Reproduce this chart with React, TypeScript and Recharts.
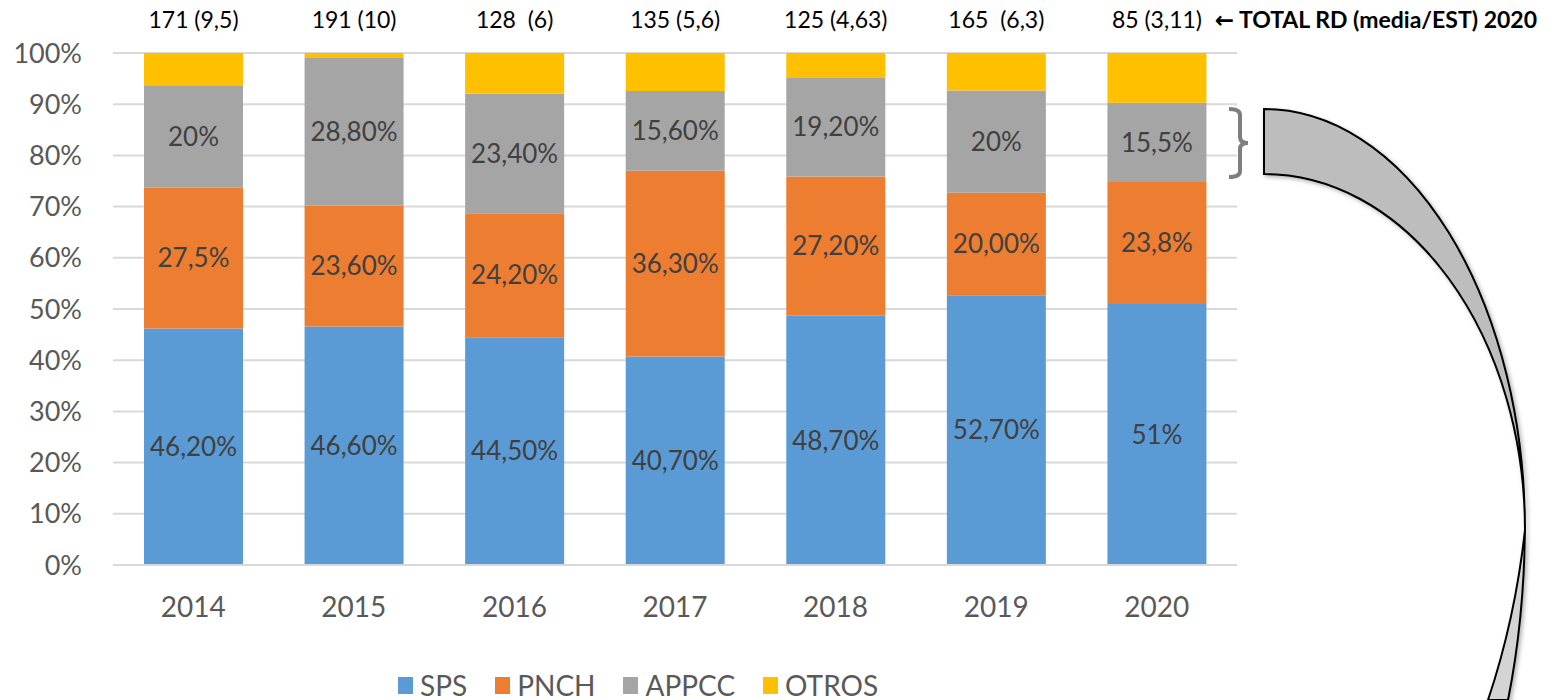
import { BarChart, Bar, XAxis, YAxis, CartesianGrid, LabelList, Legend } from "recharts";

const years = ["2014", "2015", "2016", "2017", "2018", "2019", "2020"];
const sps = [46.2, 46.6, 44.5, 40.7, 48.7, 52.7, 51];
const pnch = [27.5, 23.6, 24.2, 36.3, 27.2, 20.0, 23.8];
const appcc = [20, 28.8, 23.4, 15.6, 19.2, 20, 15.5];
const otros = [6.3, 1.0, 7.9, 7.4, 4.9, 7.3, 9.7];
const spsLabels = ["46,20%", "46,60%", "44,50%", "40,70%", "48,70%", "52,70%", "51%"];
const pnchLabels = ["27,5%", "23,60%", "24,20%", "36,30%", "27,20%", "20,00%", "23,8%"];
const appccLabels = ["20%", "28,80%", "23,40%", "15,60%", "19,20%", "20%", "15,5%"];
const totals = ["171 (9,5)", "191 (10)", "128  (6)", "135 (5,6)", "125 (4,63)", "165  (6,3)", "85 (3,11)"];
const yTicks = [0, 10, 20, 30, 40, 50, 60, 70, 80, 90, 100];

const series = [
  { key: "SPS", color: "#5B9BD5" },
  { key: "PNCH", color: "#ED7D31" },
  { key: "APPCC", color: "#A5A5A5" },
  { key: "OTROS", color: "#FFC000" },
];

const data = years.map((y, i) => ({
  year: y,
  SPS: sps[i],
  PNCH: pnch[i],
  APPCC: appcc[i],
  OTROS: otros[i],
  spsLabel: spsLabels[i],
  pnchLabel: pnchLabels[i],
  appccLabel: appccLabels[i],
  total: totals[i],
}));

const FONT = "Lato, 'Open Sans', sans-serif";
const segLabel = { fill: "#404040", fontSize: 26, fontFamily: FONT };

const TopLabel = (p: any) => (
  <text
    x={p.x + p.width / 2}
    y={p.y - 25}
    textAnchor="middle"
    fill="#000"
    fontSize={23}
    fontFamily={FONT}
    style={{ whiteSpace: "pre" }}
  >
    {p.value}
  </text>
);

const LegendBox = () => (
  <div style={{ display: "flex", alignItems: "center", marginLeft: 398, height: 30, fontFamily: FONT, fontSize: 28, color: "#595959" }}>
    {series.map((s) => (
      <div key={s.key} style={{ display: "flex", alignItems: "center", marginRight: 28 }}>
        <span style={{ display: "inline-block", width: 15, height: 17, background: s.color, marginRight: 7 }} />
        <span>{s.key}</span>
      </div>
    ))}
  </div>
);

export default function App() {
  return (
    <div style={{ position: "absolute", left: 0, top: 0, width: 1557, height: 700, background: "#fff" }}>
      <BarChart
        width={1557}
        height={700}
        data={data}
        margin={{ top: 53, right: 320, left: 0, bottom: 0 }}
        barSize={99}
      >
        <CartesianGrid vertical={false} stroke="#D9D9D9" strokeWidth={2} />
        <XAxis
          dataKey="year"
          height={105}
          tickLine={false}
          axisLine={{ stroke: "#D9D9D9", strokeWidth: 2 }}
          tickMargin={26}
          tick={{ fill: "#595959", fontSize: 28, fontFamily: FONT }}
        />
        <YAxis
          width={113}
          domain={[0, 100]}
          ticks={yTicks}
          tickFormatter={(v) => `${v}%`}
          axisLine={false}
          tickLine={false}
          tickMargin={25}
          tick={{ fill: "#595959", fontSize: 27, fontFamily: FONT }}
        />
        <Legend verticalAlign="bottom" wrapperStyle={{ left: 0, width: 1557, bottom: 0 }} content={<LegendBox />} />
        <Bar dataKey="SPS" stackId="a" fill="#5B9BD5" isAnimationActive={false}>
          <LabelList dataKey="spsLabel" position="center" style={segLabel} />
        </Bar>
        <Bar dataKey="PNCH" stackId="a" fill="#ED7D31" isAnimationActive={false}>
          <LabelList dataKey="pnchLabel" position="center" style={segLabel} />
        </Bar>
        <Bar dataKey="APPCC" stackId="a" fill="#A5A5A5" isAnimationActive={false}>
          <LabelList dataKey="appccLabel" position="center" style={segLabel} />
        </Bar>
        <Bar dataKey="OTROS" stackId="a" fill="#FFC000" isAnimationActive={false}>
          <LabelList dataKey="total" content={TopLabel} />
        </Bar>
      </BarChart>
      <svg width={1557} height={700} style={{ position: "absolute", left: 0, top: 0, pointerEvents: "none" }}>
        <defs>
          <filter id="sh" x="-10%" y="-10%" width="130%" height="130%">
            <feDropShadow dx="2" dy="2" stdDeviation="2" floodColor="#000" floodOpacity="0.3" />
          </filter>
        </defs>
        <text x={1537} y={28} textAnchor="end" fontSize={23} fontWeight="bold" fontFamily={FONT} fill="#000">
          <tspan fontFamily="'DejaVu Sans'" fontWeight="bold">←</tspan> TOTAL RD (media/EST) 2020
        </text>
        <path
          d="M1229,109 Q1240,109 1240,115 L1240,137 Q1240,143 1248,143 Q1240,143 1240,149 L1240,171 Q1240,177 1229,177"
          fill="none"
          stroke="#7F7F7F"
          strokeWidth={4}
        />
        <path
          d="M1525,530 Q1524,620 1508,700 L1488,700 Q1515,620 1525,530 Z"
          fill="#D4D4D4"
          stroke="#000"
          strokeWidth={2}
          filter="url(#sh)"
        />
        <path
          d="M1264,109 A261,421 0 0 1 1525,530 A261,356 0 0 0 1264,174 Z"
          fill="#BDBDBD"
          stroke="#000"
          strokeWidth={2}
          filter="url(#sh)"
        />
      </svg>
    </div>
  );
}
